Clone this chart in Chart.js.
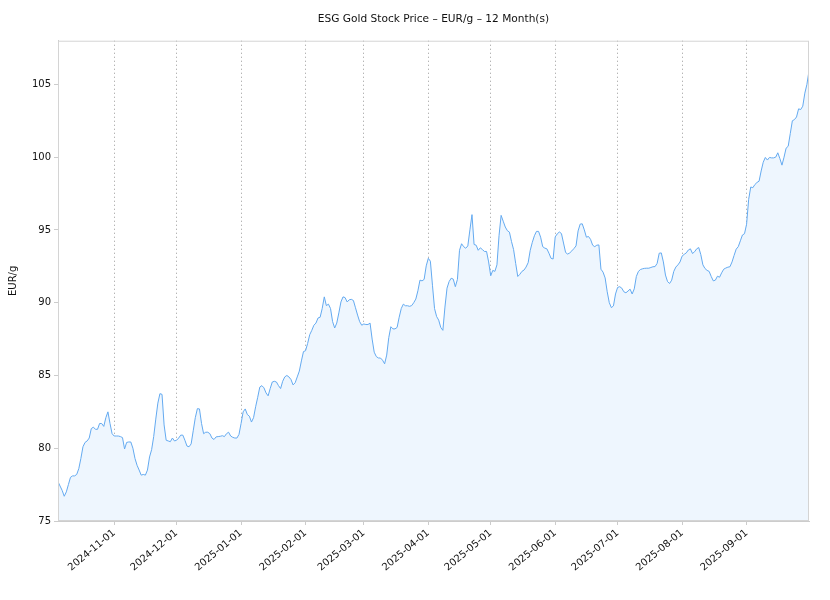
<!DOCTYPE html>
<html>
<head>
<meta charset="utf-8">
<script src="https://cdn.jsdelivr.net/npm/chart.js@4.4.1/dist/chart.umd.min.js"></script>
<style>html,body{margin:0;padding:0;background:#fff}</style>
</head>
<body>
<canvas id="goldChart" width="830" height="600"></canvas>
<script>
// one price per calendar day, starting at startDate
const startDate = '2024-10-05';
const oct24 = [77.7, 77.4, 77.1, 76.7, 77.0, 77.5, 78.0, 78.1, 78.1, 78.2, 78.6, 79.3, 80.1, 80.4, 80.5, 80.7, 81.35, 81.45, 81.3, 81.3, 81.7, 81.7, 81.5, 82.1, 82.5, 81.7, 81.0];
const nov24 = [80.84, 80.84, 80.84, 80.8, 80.73, 79.95, 80.4, 80.43, 80.43, 80.0, 79.3, 78.83, 78.5, 78.15, 78.2, 78.15, 78.5, 79.4, 79.9, 80.8, 82.0, 83.1, 83.75, 83.7, 81.6, 80.55, 80.5, 80.45, 80.7, 80.5];
const dec24 = [80.55, 80.7, 80.9, 80.9, 80.55, 80.15, 80.1, 80.3, 81.2, 82.1, 82.72, 82.7, 81.7, 81.0, 81.1, 81.1, 81.0, 80.7, 80.6, 80.78, 80.8, 80.82, 80.86, 80.8, 81.0, 81.1, 80.84, 80.75, 80.7, 80.7, 80.95];
const jan25 = [81.7, 82.5, 82.7, 82.32, 82.2, 81.8, 82.1, 82.85, 83.5, 84.2, 84.3, 84.15, 83.8, 83.6, 84.1, 84.55, 84.6, 84.55, 84.3, 84.1, 84.6, 84.9, 85.0, 84.9, 84.72, 84.35, 84.5, 84.9, 85.3, 86.0, 86.64];
const feb25 = [86.7, 87.2, 87.8, 88.1, 88.45, 88.6, 88.95, 89.0, 89.6, 90.4, 89.8, 89.9, 89.6, 88.7, 88.26, 88.6, 89.3, 90.05, 90.4, 90.35, 90.05, 90.2, 90.23, 90.15, 89.65, 89.15, 88.7, 88.45];
const mar25 = [88.54, 88.5, 88.5, 88.6, 87.5, 86.6, 86.3, 86.2, 86.2, 86.05, 85.8, 86.4, 87.6, 88.35, 88.2, 88.2, 88.3, 89.0, 89.6, 89.9, 89.79, 89.79, 89.75, 89.8, 90.0, 90.25, 90.82, 91.55, 91.5, 91.6, 92.53];
const apr25 = [93.05, 92.85, 91.2, 89.6, 89.05, 88.8, 88.3, 88.1, 89.7, 91.0, 91.45, 91.68, 91.62, 91.1, 91.6, 93.6, 94.05, 93.85, 93.74, 93.9, 95.0, 96.05, 94.0, 93.95, 93.6, 93.77, 93.65, 93.52, 93.52, 92.8];
const may25 = [91.85, 92.22, 92.15, 92.6, 94.6, 96.0, 95.6, 95.2, 94.95, 94.85, 94.2, 93.65, 92.7, 91.8, 91.95, 92.15, 92.24, 92.45, 92.75, 93.6, 94.15, 94.6, 94.9, 94.9, 94.5, 93.85, 93.75, 93.7, 93.4, 93.05, 93.0];
const jun25 = [94.52, 94.73, 94.86, 94.75, 94.1, 93.45, 93.34, 93.42, 93.56, 93.72, 93.9, 94.93, 95.4, 95.42, 95.0, 94.5, 94.55, 94.35, 93.95, 93.85, 93.95, 93.97, 92.3, 92.1, 91.7, 90.75, 90.0, 89.66, 89.78, 90.6];
const jul25 = [91.05, 91.1, 91.0, 90.75, 90.68, 90.8, 90.93, 90.6, 90.95, 91.8, 92.15, 92.28, 92.33, 92.36, 92.37, 92.37, 92.42, 92.47, 92.48, 92.7, 93.4, 93.42, 92.8, 91.9, 91.45, 91.32, 91.55, 92.15, 92.45, 92.6, 92.8];
const aug25 = [93.2, 93.32, 93.42, 93.62, 93.7, 93.38, 93.5, 93.7, 93.79, 93.3, 92.6, 92.35, 92.22, 92.15, 91.8, 91.5, 91.55, 91.82, 91.75, 92.05, 92.3, 92.38, 92.44, 92.47, 92.8, 93.25, 93.68, 93.85, 94.25, 94.65, 94.74];
const sep25 = [95.39, 97.1, 97.95, 97.9, 98.12, 98.26, 98.35, 99.05, 99.65, 99.98, 99.8, 99.98, 99.95, 99.95, 100.0, 100.3, 99.9, 99.45, 100.0, 100.62, 100.75, 101.62, 102.5, 102.58, 102.76, 103.32, 103.27, 103.5, 104.4, 105.0];
const oct25 = [105.93];

const tickLabels = ['2024-11-01', '2024-12-01', '2025-01-01', '2025-02-01', '2025-03-01', '2025-04-01',
  '2025-05-01', '2025-06-01', '2025-07-01', '2025-08-01', '2025-09-01'];
const yTicks = [75, 80, 85, 90, 95, 100, 105];

const DAY = 86400000;
const t0 = Date.parse(startDate);
const prices = [].concat(oct24, nov24, dec24, jan25, feb25, mar25, apr25, may25, jun25, jul25, aug25, sep25, oct25);
const points = prices.map((v, i) => ({x: i, y: v}));
const tickDays = tickLabels.map(s => Math.round((Date.parse(s) - t0) / DAY));

Chart.defaults.font.family = 'DejaVu Sans';
Chart.defaults.font.size = 10;
Chart.defaults.color = '#111';

// light frame round the plot area
const framePlugin = {
  id: 'frame',
  afterDatasetsDraw(chart) {
    const {ctx, chartArea: a} = chart;
    ctx.save();
    ctx.strokeStyle = '#d4d4d4';
    ctx.lineWidth = 1;
    ctx.strokeRect(a.left + 0.5, a.top + 0.5, a.right - a.left - 1, a.bottom - a.top - 1);
    ctx.restore();
  }
};

new Chart(document.getElementById('goldChart'), {
  type: 'line',
  data: {
    datasets: [{
      label: 'EUR/g',
      data: points,
      borderColor: '#64aaf0',
      borderWidth: 1,
      backgroundColor: '#eef6fe',
      fill: 'start',
      pointRadius: 0,
      tension: 0
    }]
  },
  options: {
    responsive: false,
    animation: false,
    layout: {padding: {left: 0, right: 21, top: 0, bottom: 0}},
    plugins: {
      legend: {display: false},
      tooltip: {enabled: false},
      title: {
        display: true,
        text: 'ESG Gold Stock Price – EUR/g – 12 Month(s)',
        fullSize: false,
        font: {size: 10.6, weight: 'normal'},
        color: '#111',
        padding: {top: 13, bottom: 15}
      }
    },
    scales: {
      x: {
        type: 'linear',
        min: 0,
        max: prices.length - 1,
        afterBuildTicks: s => { s.ticks = tickDays.map(v => ({value: v})); },
        afterFit: s => { s.height = 79; },
        ticks: {
          autoSkip: false,
          minRotation: 40,
          maxRotation: 40,
          padding: 2,
          callback: v => tickLabels[tickDays.indexOf(v)] || ''
        },
        grid: {color: '#999', tickColor: '#ccc', tickLength: 4, tickBorderDash: []},
        border: {color: '#ccc', dash: [1, 3]}
      },
      y: {
        min: 75,
        max: 108,
        afterBuildTicks: s => { s.ticks = yTicks.map(v => ({value: v})); },
        afterFit: s => { s.width = 58; },
        ticks: {padding: 3},
        grid: {drawOnChartArea: false, tickLength: 4, color: '#ccc'},
        border: {color: '#ccc'},
        title: {display: true, text: 'EUR/g', font: {size: 10}, color: '#111', padding: {top: 7, bottom: 0}}
      }
    }
  },
  plugins: [framePlugin]
});
</script>
</body>
</html>
